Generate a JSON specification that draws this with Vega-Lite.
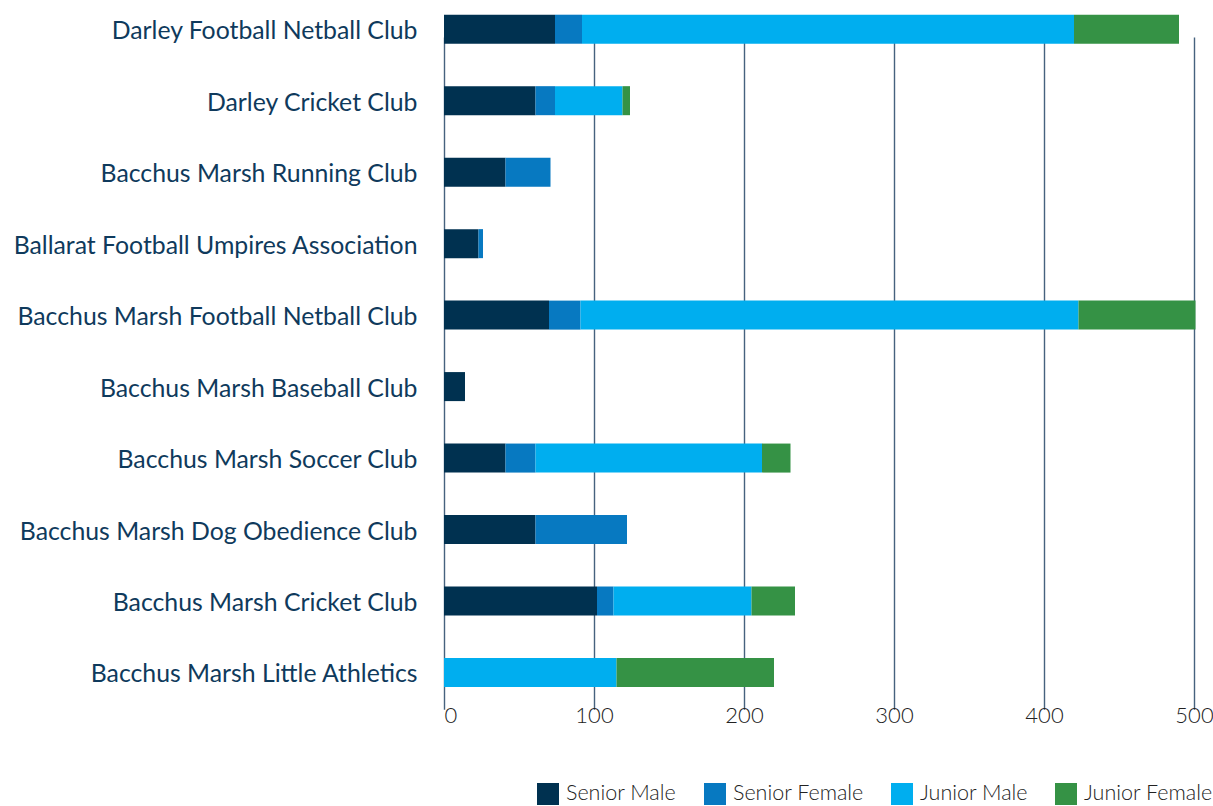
{
  "$schema": "https://vega.github.io/schema/vega-lite/v6.json",
  "autosize": "none",
  "padding": {"left": 444, "top": 27, "right": 19, "bottom": 109},
  "width": 750,
  "height": 670,
  "background": "#ffffff",
  "config": {"view": {"stroke": null}, "font": "Lato"},
  "data": {"values": [
    {"club": "Darley Football Netball Club", "group": "Senior Male", "k": 1, "n": 74},
    {"club": "Darley Football Netball Club", "group": "Senior Female", "k": 2, "n": 18},
    {"club": "Darley Football Netball Club", "group": "Junior Male", "k": 3, "n": 328},
    {"club": "Darley Football Netball Club", "group": "Junior Female", "k": 4, "n": 70},
    {"club": "Darley Cricket Club", "group": "Senior Male", "k": 1, "n": 61},
    {"club": "Darley Cricket Club", "group": "Senior Female", "k": 2, "n": 13},
    {"club": "Darley Cricket Club", "group": "Junior Male", "k": 3, "n": 45},
    {"club": "Darley Cricket Club", "group": "Junior Female", "k": 4, "n": 5},
    {"club": "Bacchus Marsh Running Club", "group": "Senior Male", "k": 1, "n": 41},
    {"club": "Bacchus Marsh Running Club", "group": "Senior Female", "k": 2, "n": 30},
    {"club": "Ballarat Football Umpires Association", "group": "Senior Male", "k": 1, "n": 23},
    {"club": "Ballarat Football Umpires Association", "group": "Senior Female", "k": 2, "n": 3},
    {"club": "Bacchus Marsh Football Netball Club", "group": "Senior Male", "k": 1, "n": 70},
    {"club": "Bacchus Marsh Football Netball Club", "group": "Senior Female", "k": 2, "n": 21},
    {"club": "Bacchus Marsh Football Netball Club", "group": "Junior Male", "k": 3, "n": 332},
    {"club": "Bacchus Marsh Football Netball Club", "group": "Junior Female", "k": 4, "n": 78},
    {"club": "Bacchus Marsh Baseball Club", "group": "Senior Male", "k": 1, "n": 14},
    {"club": "Bacchus Marsh Soccer Club", "group": "Senior Male", "k": 1, "n": 41},
    {"club": "Bacchus Marsh Soccer Club", "group": "Senior Female", "k": 2, "n": 20},
    {"club": "Bacchus Marsh Soccer Club", "group": "Junior Male", "k": 3, "n": 151},
    {"club": "Bacchus Marsh Soccer Club", "group": "Junior Female", "k": 4, "n": 19},
    {"club": "Bacchus Marsh Dog Obedience Club", "group": "Senior Male", "k": 1, "n": 61},
    {"club": "Bacchus Marsh Dog Obedience Club", "group": "Senior Female", "k": 2, "n": 61},
    {"club": "Bacchus Marsh Cricket Club", "group": "Senior Male", "k": 1, "n": 102},
    {"club": "Bacchus Marsh Cricket Club", "group": "Senior Female", "k": 2, "n": 11},
    {"club": "Bacchus Marsh Cricket Club", "group": "Junior Male", "k": 3, "n": 92},
    {"club": "Bacchus Marsh Cricket Club", "group": "Junior Female", "k": 4, "n": 29},
    {"club": "Bacchus Marsh Little Athletics", "group": "Junior Male", "k": 3, "n": 115},
    {"club": "Bacchus Marsh Little Athletics", "group": "Junior Female", "k": 4, "n": 105}
  ]},
  "mark": {"type": "bar"},
  "encoding": {
    "y": {
      "field": "club", "type": "nominal",
      "sort": ["Darley Football Netball Club", "Darley Cricket Club", "Bacchus Marsh Running Club", "Ballarat Football Umpires Association", "Bacchus Marsh Football Netball Club", "Bacchus Marsh Baseball Club", "Bacchus Marsh Soccer Club", "Bacchus Marsh Dog Obedience Club", "Bacchus Marsh Cricket Club", "Bacchus Marsh Little Athletics"],
      "scale": {"range": [-12.3, 660], "paddingInner": 0.594, "paddingOuter": 0},
      "axis": {"title": null, "domain": false, "ticks": false, "grid": false, "labelPadding": 27, "labelOffset": 3, "labelLimit": 500, "labelFont": "Lato", "labelFontSize": 24.8, "labelColor": "#0f3a5c"}
    },
    "x": {
      "field": "n", "type": "quantitative", "stack": "zero",
      "scale": {"domain": [0, 500], "nice": false},
      "axis": {"title": null, "values": [0, 100, 200, 300, 400, 500], "domain": false, "ticks": false, "grid": true, "gridColor": "#46627e", "gridWidth": 1.4, "labelFlush": false, "labelAlign": {"condition": {"test": "datum.value == 0", "value": "left"}, "value": "center"}, "labelPadding": 8, "labelFont": "Lato", "labelFontSize": 22, "labelFontWeight": 300, "labelColor": "#222222"}
    },
    "color": {
      "field": "group", "type": "nominal",
      "scale": {"domain": ["Senior Male", "Senior Female", "Junior Male", "Junior Female"], "range": ["#003150", "#0779c1", "#00aeef", "#359245"]},
      "legend": {"title": null, "orient": "none", "legendX": 93, "legendY": 756, "direction": "horizontal", "columns": 4, "symbolType": "square", "symbolSize": 484, "symbolStrokeWidth": 0, "symbolOpacity": 1, "labelFont": "Lato", "labelFontSize": 21.5, "labelFontWeight": 300, "labelColor": "#222222", "labelOffset": 7, "columnPadding": 27, "padding": 0}
    },
    "order": {"field": "k", "type": "quantitative"}
  }
}
